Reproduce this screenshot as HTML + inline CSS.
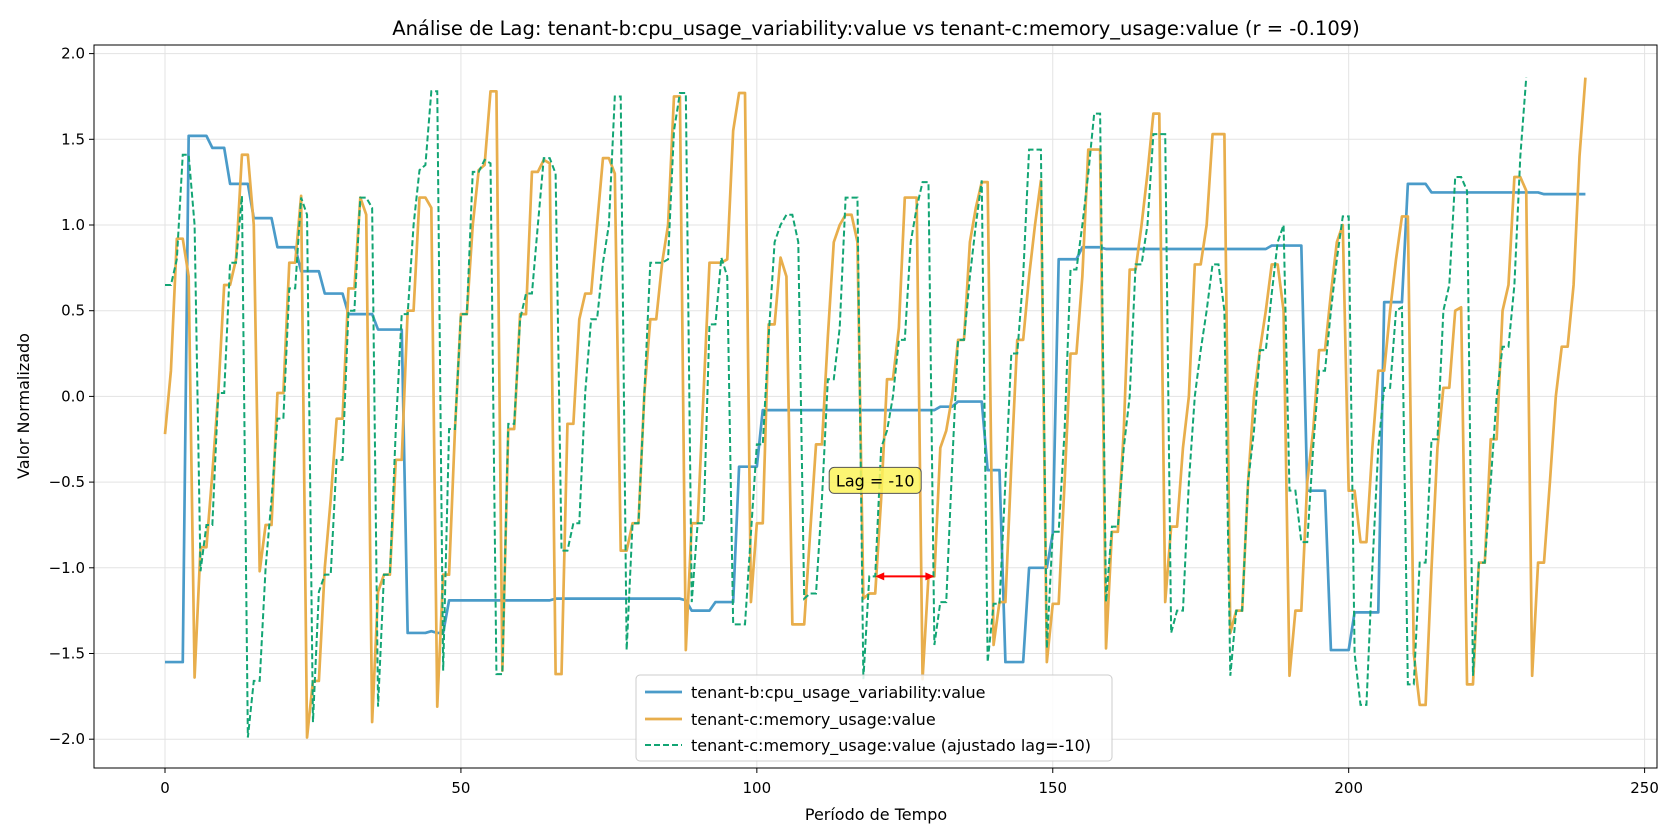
<!DOCTYPE html>
<html><head><meta charset="utf-8"><style>
html,body{margin:0;padding:0;background:#fff;}
svg{display:block;font-family:"DejaVu Sans","Liberation Sans",sans-serif;}
</style></head><body>
<svg id="chart" width="1680" height="840" viewBox="0 0 1680 840">
<rect x="0" y="0" width="1680" height="840" fill="#fff"/>
<text x="876" y="35" text-anchor="middle" font-size="19.5" fill="#000">Análise de Lag: tenant-b:cpu_usage_variability:value vs tenant-c:memory_usage:value (r = -0.109)</text>
<g id="grid"></g>
<g id="series"></g>
<rect x="94" y="45" width="1563" height="723" fill="none" stroke="#000" stroke-width="1"/>
<g id="axes"></g>
<text x="876" y="820" text-anchor="middle" font-size="16">Período de Tempo</text>
<text x="0" y="0" transform="translate(29,406) rotate(-90)" text-anchor="middle" font-size="16">Valor Normalizado</text>
<g id="annot"></g>
<g>
<rect x="636" y="675" width="476" height="86" rx="4" fill="#fff" fill-opacity="0.85" stroke="#ccc"/>
<line x1="645" y1="692" x2="682" y2="692" stroke="#4a9bc9" stroke-width="2.7"/>
<text x="691" y="698" font-size="16">tenant-b:cpu_usage_variability:value</text>
<line x1="645" y1="719" x2="682" y2="719" stroke="#e8ae4c" stroke-width="2.7"/>
<text x="691" y="725" font-size="16">tenant-c:memory_usage:value</text>
<line x1="645" y1="745" x2="682" y2="745" stroke="#12a574" stroke-width="2" stroke-dasharray="6,3"/>
<text x="691" y="751" font-size="16">tenant-c:memory_usage:value (ajustado lag=-10)</text>
</g>
</svg>
<script>
const xTicks=[0,50,100,150,200,250];
const yTicks=[-2.0,-1.5,-1.0,-0.5,0.0,0.5,1.0,1.5,2.0];
const lag=-10;
const cpuValues=[-1.55,-1.55,-1.55,-1.55,1.52,1.52,1.52,1.52,1.45,1.45,1.45,1.24,1.24,1.24,1.24,1.04,1.04,1.04,1.04,0.87,0.87,0.87,0.87,0.73,0.73,0.73,0.73,0.6,0.6,0.6,0.6,0.48,0.48,0.48,0.48,0.48,0.39,0.39,0.39,0.39,0.39,
-1.38,-1.38,-1.38,-1.38,-1.37,-1.38,-1.38,-1.19,-1.19,-1.19,-1.19,-1.19,-1.19,-1.19,-1.19,-1.19,-1.19,-1.19,-1.19,-1.19,-1.19,-1.19,-1.19,-1.19,-1.19,
-1.18,-1.18,-1.18,-1.18,-1.18,-1.18,-1.18,-1.18,-1.18,-1.18,-1.18,-1.18,-1.18,-1.18,-1.18,-1.18,-1.18,-1.18,-1.18,-1.18,-1.18,-1.18,-1.19,
-1.25,-1.25,-1.25,-1.25,-1.2,-1.2,-1.2,-1.2,-0.41,-0.41,-0.41,-0.41,
-0.08,-0.08,-0.08,-0.08,-0.08,-0.08,-0.08,-0.08,-0.08,-0.08,-0.08,-0.08,-0.08,-0.08,-0.08,-0.08,-0.08,-0.08,-0.08,-0.08,-0.08,-0.08,-0.08,-0.08,-0.08,-0.08,-0.08,-0.08,-0.08,-0.08,
-0.06,-0.06,-0.06,-0.03,-0.03,-0.03,-0.03,-0.03,-0.43,-0.43,-0.43,-1.55,-1.55,-1.55,-1.55,-1.0,-1.0,-1.0,-1.0,-0.8,0.8,0.8,0.8,0.8,0.87,0.87,0.87,0.87,
0.86,0.86,0.86,0.86,0.86,0.86,0.86,0.86,0.86,0.86,0.86,0.86,0.86,0.86,0.86,0.86,0.86,0.86,0.86,0.86,0.86,0.86,0.86,0.86,0.86,0.86,0.86,0.86,0.88,0.88,0.88,0.88,0.88,0.88,
-0.55,-0.55,-0.55,-0.55,-1.48,-1.48,-1.48,-1.48,-1.26,-1.26,-1.26,-1.26,-1.26,0.55,0.55,0.55,0.55,1.24,1.24,1.24,1.24,
1.19,1.19,1.19,1.19,1.19,1.19,1.19,1.19,1.19,1.19,1.19,1.19,1.19,1.19,1.19,1.19,1.19,1.19,1.19,1.18,1.18,1.18,1.18,1.18,1.18,1.18,1.18];
const memValues=[-0.22,0.15,0.92,0.92,0.7,-1.64,-0.88,-0.88,-0.45,0.02,0.65,0.65,0.8,1.41,1.41,1.0,-1.02,-0.75,-0.75,0.02,
0.02,0.78,0.78,1.17,-1.99,-1.66,-1.66,-1.0,-0.6,-0.13,-0.13,0.63,0.63,1.16,1.06,-1.9,-1.14,-1.04,-1.04,-0.37,
-0.37,0.5,0.5,1.16,1.16,1.1,-1.81,-1.04,-1.04,-0.19,0.48,0.48,1.0,1.32,1.35,1.78,1.78,-1.6,-0.19,-0.19,
0.48,0.48,1.31,1.31,1.38,1.36,-1.62,-1.62,-0.16,-0.16,0.45,0.6,0.6,1.0,1.39,1.39,1.3,-0.9,-0.9,-0.74,
-0.74,0.02,0.45,0.45,0.78,1.0,1.75,1.75,-1.48,-0.74,-0.74,0.02,0.78,0.78,0.78,0.8,1.55,1.77,1.77,-1.2,
-0.74,-0.74,0.42,0.42,0.81,0.7,-1.33,-1.33,-1.33,-0.8,-0.28,-0.28,0.35,0.9,1.0,1.06,1.06,0.9,-1.18,-1.15,
-1.15,-0.6,0.1,0.1,0.4,1.16,1.16,1.16,-1.65,-1.05,-1.05,-0.3,-0.2,0.0,0.33,0.33,0.9,1.1,1.25,1.25,
-1.45,-1.2,-1.2,-0.4,0.33,0.33,0.7,1.0,1.26,-1.55,-1.21,-1.21,-0.5,0.25,0.25,0.7,1.44,1.44,1.44,-1.47,
-0.79,-0.79,-0.2,0.74,0.74,1.0,1.3,1.65,1.65,-1.2,-0.76,-0.76,-0.3,0.0,0.77,0.77,1.0,1.53,1.53,1.53,
-1.38,-1.25,-1.25,-0.5,0.0,0.27,0.5,0.77,0.77,0.5,-1.63,-1.25,-1.25,-0.5,-0.2,0.27,0.27,0.6,0.9,1.0,
-0.55,-0.55,-0.85,-0.85,-0.3,0.15,0.15,0.5,0.8,1.05,1.05,-1.5,-1.8,-1.8,-1.0,-0.3,0.05,0.05,0.5,0.52,
-1.68,-1.68,-0.97,-0.97,-0.25,-0.25,0.5,0.65,1.28,1.28,1.2,-1.63,-0.97,-0.97,-0.5,0.0,0.29,0.29,0.65,1.4,1.86];
const lagLabel="Lag = -10";
const arrowX=[120,130];
const arrowY=-1.05;
const labelPos=[120,-0.49];

const X0=165,X1=1644.6,Y0=396.4,YS=171.4;
function sx(v){return X0+v*(X1-X0)/250;}
function sy(v){return Y0-v*YS;}
const NS="http://www.w3.org/2000/svg";
function mk(tag,attrs,parent){const e=document.createElementNS(NS,tag);for(const k in attrs)e.setAttribute(k,attrs[k]);parent.appendChild(e);return e;}
const grid=document.getElementById('grid'),axes=document.getElementById('axes'),series=document.getElementById('series'),annot=document.getElementById('annot');
xTicks.forEach(t=>{
  const g=mk('line',{x1:sx(t),x2:sx(t),y1:45,y2:768,stroke:'#e3e3e3','stroke-width':1},grid);
  
  
  const tk=mk('line',{x1:sx(t),x2:sx(t),y1:768,y2:773,stroke:'#000'},axes);
  
  
  const lb=mk('text',{x:sx(t),y:793,'text-anchor':'middle','font-size':15},axes);
  lb.textContent=String(t);
  
  
});
yTicks.forEach(t=>{
  const g=mk('line',{x1:94,x2:1657,y1:sy(t),y2:sy(t),stroke:'#e3e3e3','stroke-width':1},grid);
  
  
  const tk=mk('line',{x1:89,x2:94,y1:sy(t),y2:sy(t),stroke:'#000'},axes);
  
  
  const lb=mk('text',{x:85,y:sy(t)+5,'text-anchor':'end','font-size':15},axes);
  lb.textContent=(t<0?'\u2212':'')+Math.abs(t).toFixed(1);
  
  
});
function pts(arr,off){return arr.map((v,i)=>sx(i+off).toFixed(2)+','+sy(v).toFixed(2)).join(' ');}
const cpu=mk('polyline',{points:pts(cpuValues,0),fill:'none',stroke:'#4a9bc9','stroke-width':2.7,'stroke-linejoin':'round'},series);


const mem=mk('polyline',{points:pts(memValues,0),fill:'none',stroke:'#e8ae4c','stroke-width':2.7,'stroke-linejoin':'round'},series);


const shifted=memValues.slice(-lag);
const adj=mk('polyline',{points:pts(shifted,0),fill:'none',stroke:'#12a574','stroke-width':2,'stroke-dasharray':'6,3'},series);


const ax1=sx(arrowX[0]),ax2=sx(arrowX[1]),ay=sy(arrowY);
const al=mk('line',{x1:ax1+6,x2:ax2-6,y1:ay,y2:ay,stroke:'#ff0000','stroke-width':2},annot);


const h1=mk('path',{d:`M${ax1},${ay} l9,-4 v8 z`,fill:'#ff0000'},annot);


const h2=mk('path',{d:`M${ax2},${ay} l-9,-4 v8 z`,fill:'#ff0000'},annot);


const lx=sx(labelPos[0]),ly=sy(labelPos[1]);
const bx=mk('rect',{x:lx-46,y:ly-13,width:92,height:26,rx:5,fill:'#fbf35a','fill-opacity':0.85,stroke:'#555','stroke-width':1},annot);


const lt=mk('text',{x:lx,y:ly+6,'text-anchor':'middle','font-size':16},annot);
lt.textContent=lagLabel;


</script>
</body></html>
